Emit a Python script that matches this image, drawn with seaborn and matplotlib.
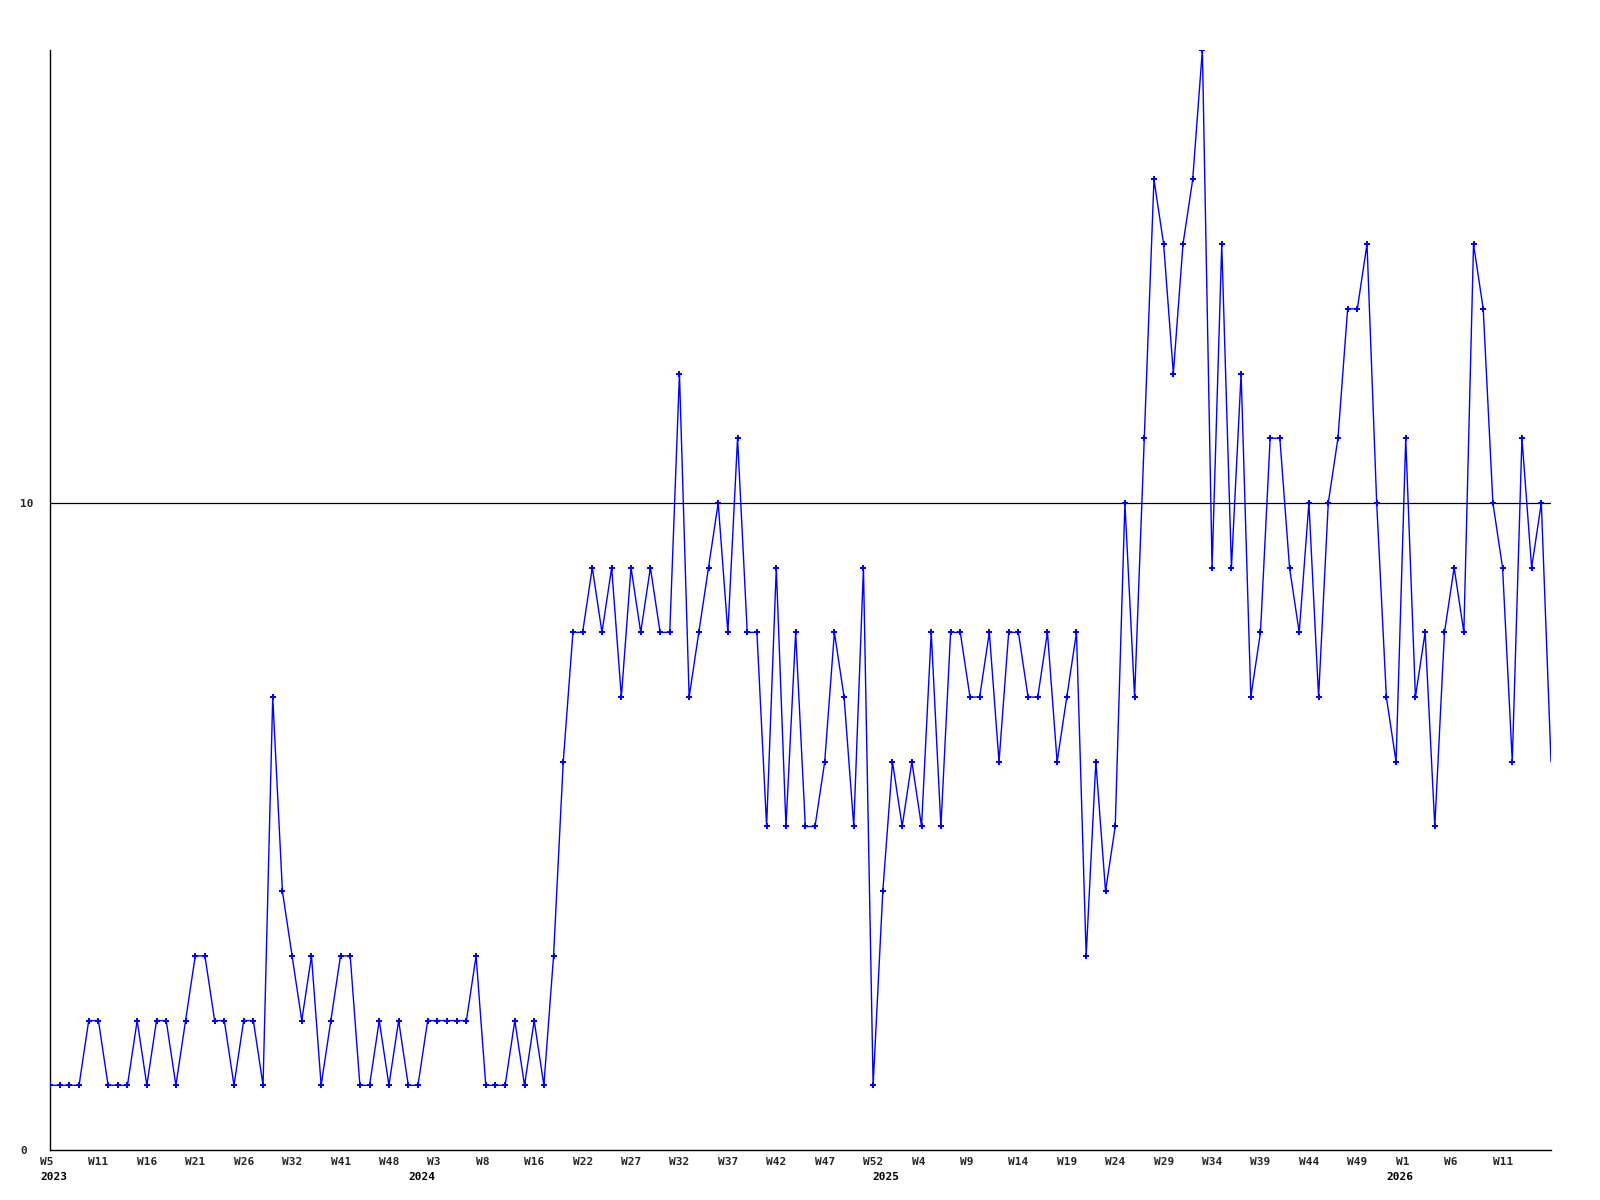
import matplotlib
matplotlib.use("Agg")
import matplotlib.pyplot as plt
import matplotlib.transforms as mtransforms
import numpy as np
import pandas as pd
import seaborn as sns

# ---- data -------------------------------------------------------------
values = [
    1, 1, 1, 1, 2, 2, 1, 1, 1, 2, 1, 2, 2, 1, 2, 3, 3, 2, 2, 1, 2, 2, 1, 7, 4,
    3, 2, 3, 1, 2, 3, 3, 1, 1, 2, 1, 2, 1, 1, 2, 2,
    2, 2, 2, 3, 1, 1, 1, 2, 1, 2, 1, 3, 6, 8, 8, 9, 8, 9, 7, 9, 8, 9, 8, 8,
    12, 7, 8, 9, 10, 8, 11, 8, 8, 5, 9, 5, 8, 5, 5, 6,
    8, 7, 5, 9, 1, 4, 6, 5, 6, 5, 8, 5, 8, 8, 7, 7, 8, 6, 8, 8, 7, 7, 8, 6,
    7, 8, 3, 6, 4, 5, 10, 7, 11, 15, 14, 12, 14, 15, 17,
    9, 14, 9, 12, 7, 8, 11, 11, 9, 8, 10, 7, 10, 11, 13, 13, 14, 10, 7, 6,
    11, 7, 8, 5, 8, 9, 8, 14, 13, 10, 9, 6, 11, 9, 10, 6,
]
week_labels = ["W5", "W11", "W16", "W21", "W26", "W32", "W41", "W48", "W3",
               "W8", "W16", "W22", "W27", "W32", "W37", "W42", "W47", "W52",
               "W4", "W9", "W14", "W19", "W24", "W29", "W34", "W39", "W44",
               "W49", "W1", "W6", "W11"]
label_step = 5
year_labels = ["2023", "2024", "2025", "2026"]
year_positions = [0, 38, 86, 139]
y_ticks = [0, 10]
ref_value = 10

df = pd.DataFrame({"idx": np.arange(len(values)), "value": values})

# ---- style ------------------------------------------------------------
sns.set_style("white")
plt.rcParams["font.family"] = ["DejaVu Sans Mono", "DejaVu Sans"]

fig = plt.figure(figsize=(16, 12), dpi=100)
ax = fig.add_axes([50 / 1600, 1 - 1150 / 1200, 1501 / 1600, 1100 / 1200])

ax.axhline(ref_value, color="black", lw=0.9, zorder=1)

sns.lineplot(data=df, x="idx", y="value", ax=ax, color="#0000ff", lw=1.0,
             marker="P", markersize=4.5, markeredgewidth=0,
             markerfacecolor="#0000ff", zorder=3,
             markevery=list(range(len(values) - 1)))

ax.set_xlim(0, len(values) - 1)
ax.set_ylim(0, 17)

ax.set_xlabel("")
ax.set_ylabel("")

for side in ["top", "right"]:
    ax.spines[side].set_visible(False)
for side in ["left", "bottom"]:
    ax.spines[side].set_color("black")
    ax.spines[side].set_linewidth(1.0)

# x ticks
ax.set_xticks(np.arange(0, len(week_labels) * label_step, label_step))
ax.set_xticklabels(week_labels, fontsize=8, fontweight="bold")
ax.tick_params(axis="x", length=0, pad=5)
shift = mtransforms.ScaledTranslation(-10 / 100, 0, fig.dpi_scale_trans)
for lab in ax.get_xticklabels():
    lab.set_ha("left")
    lab.set_transform(lab.get_transform() + shift)

# y ticks
ax.set_yticks(y_ticks)
ax.set_yticklabels([str(t) for t in y_ticks], fontsize=8, fontweight="bold")
ax.tick_params(axis="y", length=0, pad=21.6)
for lab in ax.get_yticklabels():
    lab.set_ha("left")

# year labels (second row)
base = mtransforms.blended_transform_factory(ax.transData, ax.transAxes)
ytrans = mtransforms.offset_copy(base, fig=fig, x=-10, y=-22, units="dots")
for yl, xp in zip(year_labels, year_positions):
    ax.text(xp, 0, yl, transform=ytrans, ha="left", va="top",
            fontsize=8, fontweight="bold", color="black")

fig.savefig("out.png", dpi=100, facecolor="white")
